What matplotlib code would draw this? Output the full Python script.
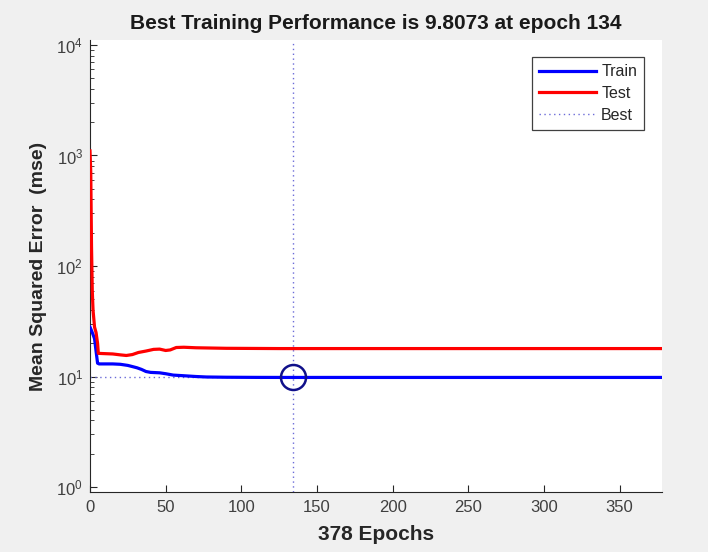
import matplotlib
matplotlib.use("Agg")
import matplotlib.pyplot as plt
from matplotlib.ticker import LogLocator, NullFormatter

plt.rcParams['font.family'] = ['Liberation Sans', 'DejaVu Sans']

# Performance history (mean squared error per epoch)
train_epochs = [0, 1, 2, 3, 4, 5, 6, 10, 15, 20, 25, 28, 31, 34, 37, 40, 46, 50, 55, 60, 65, 70, 77, 90, 110, 134, 160, 200, 250, 300, 350, 378]
train_mse = [28, 26, 24, 22, 17, 13.2, 13.0, 13.0, 13.0, 12.9, 12.6, 12.3, 12.0, 11.6, 11.1, 10.9, 10.8, 10.6, 10.3, 10.2, 10.1, 10.0, 9.9, 9.85, 9.82, 9.8073, 9.81, 9.81, 9.81, 9.81, 9.81, 9.81]

test_epochs = [0, 0.5, 1, 1.5, 2, 3, 4, 5, 5.5, 10, 15, 20, 24, 28, 32, 37, 42, 46, 50, 53, 57, 62, 70, 90, 125, 200, 300, 378]
test_mse = [1100, 700, 150, 60, 40, 28, 25, 20, 16.2, 16.1, 16.0, 15.7, 15.5, 15.8, 16.5, 17.0, 17.6, 17.7, 17.2, 17.4, 18.3, 18.4, 18.2, 18.0, 17.9, 17.9, 17.9, 17.9]

best_epoch = 134
best_perf = 9.8073
n_epochs = 378

x_ticks = [0, 50, 100, 150, 200, 250, 300, 350]

fig = plt.figure(figsize=(7.08, 5.52), dpi=100, facecolor='#f0f0f0')
ax = fig.add_axes([90 / 708, 1 - 492 / 552, (662 - 90) / 708, (492 - 40) / 552])
ax.set_facecolor('white')

ax.plot(train_epochs, train_mse, color='#0000ff', lw=2.3, label='Train', zorder=3)
ax.plot(test_epochs, test_mse, color='#ff0000', lw=2.3, label='Test', zorder=3)

best_color = '#6b6bd8'
ax.axvline(best_epoch, color=best_color, ls=(0, (1, 2.5)), lw=1.0, label='Best', zorder=2)
ax.plot([0, best_epoch], [best_perf, best_perf], color=best_color, ls=(0, (1, 2.5)), lw=1.0, zorder=2)
ax.plot([best_epoch], [best_perf], marker='o', ms=18, mfc='none', mec='#10108a', mew=1.8, zorder=4)

ax.set_yscale('log')
ax.set_xlim(0, n_epochs)
ax.set_ylim(10 ** -0.045, 10 ** 4.045)
ax.set_xticks(x_ticks)
ax.yaxis.set_major_locator(LogLocator(base=10, numticks=10))
ax.yaxis.set_minor_locator(LogLocator(base=10, subs=range(2, 10), numticks=10))
ax.yaxis.set_minor_formatter(NullFormatter())

for side in ['top', 'right']:
    ax.spines[side].set_visible(False)
for side in ['left', 'bottom']:
    ax.spines[side].set_color('#262626')
    ax.spines[side].set_linewidth(0.8)

ax.tick_params(which='both', direction='in', colors='#262626', labelcolor='#404040', labelsize=12)
ax.tick_params(which='major', length=5, width=0.8)
ax.tick_params(which='minor', length=3, width=0.6)
ax.tick_params(axis='x', pad=6)
ax.tick_params(axis='y', pad=5)

ax.set_title('Best Training Performance is 9.8073 at epoch 134', fontsize=15, fontweight='bold', color='#1a1a1a', pad=8)
ax.set_xlabel('378 Epochs', fontsize=15, fontweight='bold', color='#262626', labelpad=7)
ax.set_ylabel('Mean Squared Error  (mse)', fontsize=14, fontweight='bold', color='#262626', labelpad=7)

leg = ax.legend(loc='upper right', bbox_to_anchor=(0.969, 0.962), fontsize=11.5, frameon=True, fancybox=False,
                edgecolor='#404040', framealpha=1, handlelength=3.6, handletextpad=0.3, borderpad=0.45,
                labelspacing=0.42, borderaxespad=0)
leg.get_frame().set_linewidth(0.9)
for t in leg.get_texts():
    t.set_color('#262626')

fig.savefig('out.png', dpi=100, facecolor=fig.get_facecolor())
